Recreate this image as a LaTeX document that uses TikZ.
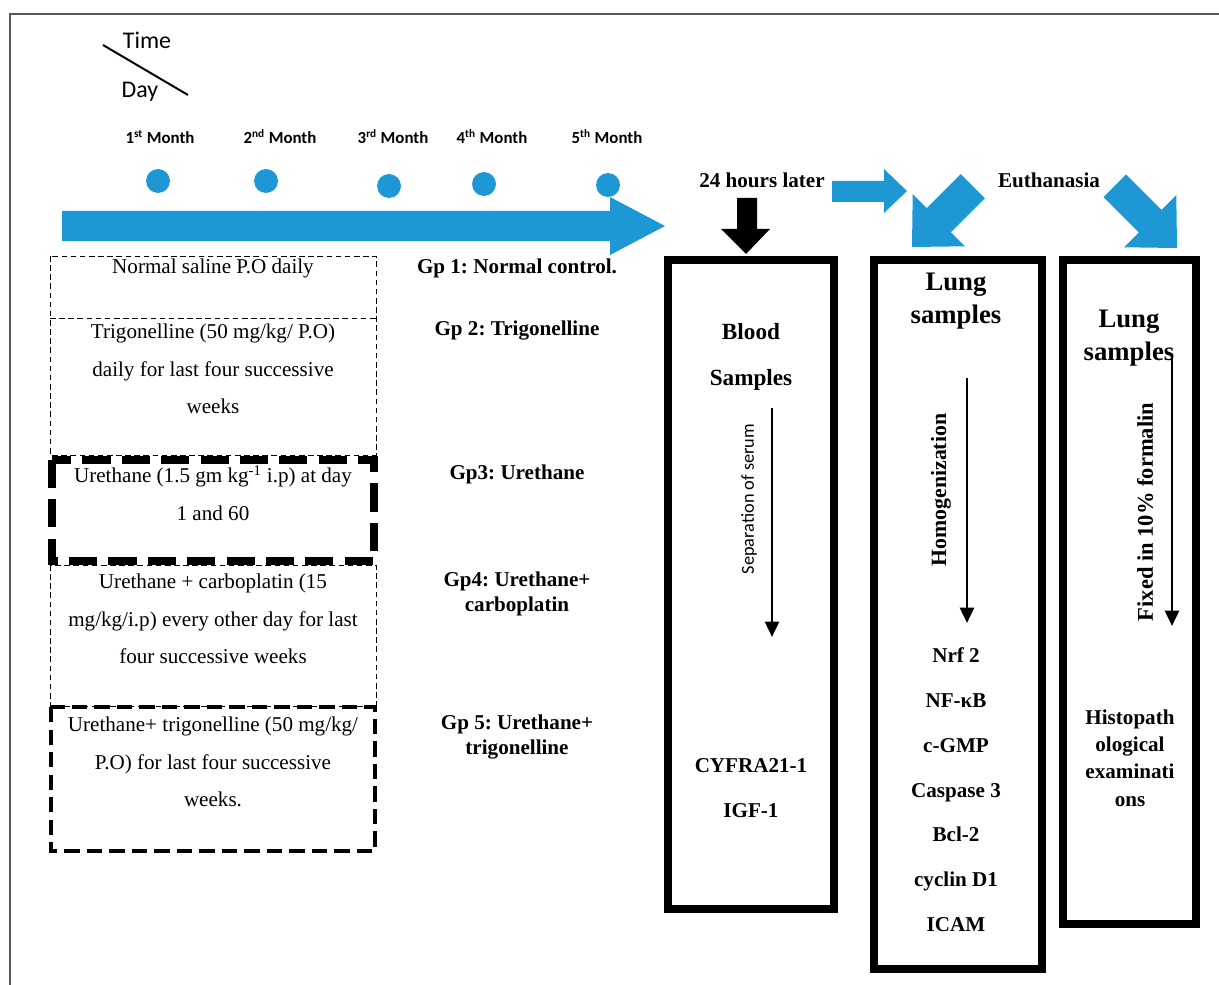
\documentclass[tikz,border=0pt]{standalone}
\usepackage{fontspec}
\setmainfont{Liberation Serif}
\newfontfamily\calibri{Carlito}
\usetikzlibrary{arrows.meta}
\definecolor{arrowblue}{RGB}{30,152,212}
\frenchspacing

\begin{document}
\begin{tikzpicture}[x=0.025cm,y=-0.025cm,
    txt/.style={font=\fontsize{15}{26.5}\selectfont,align=center,inner sep=0pt},
    grp/.style={font=\fontsize{15}{18}\selectfont\bfseries,align=center,inner sep=0pt},
    bold/.style={font=\fontsize{15}{19.5}\selectfont\bfseries,align=center,inner sep=0pt},
    marker/.style={bold,text height=10pt,text depth=3pt},
    month/.style={font=\calibri\fontsize{12}{14}\selectfont\bfseries,inner sep=0pt},
    dot/.style={circle,fill=arrowblue,minimum size=17pt,inner sep=0pt},
    samplebox/.style={line width=5.6pt},
    flow/.style={line width=2pt,-{Triangle[length=11pt,width=10pt]}}]

  \useasboundingbox (0,0) rectangle (1219,985);
  \draw[black!65,line width=0.8pt] (10,985) -- (10,14) -- (1219,14);

  \draw[line width=1.4pt] (103,45) -- (188,95);
  \node[font=\calibri\fontsize{17}{20}\selectfont,inner sep=0pt] (time) at (147,40) {Time};
  \node[font=\calibri\fontsize{17}{20}\selectfont,inner sep=0pt] (day) at (140,92) {Day};

  \foreach \x/\s [count=\i] in {160/st,280/nd,393/rd,492/th,607/th}{
    \node[month] (m\i) at (\x,137) {\i\textsuperscript{\s} Month};
  }
  \foreach \x/\y [count=\i] in {158/181,266/181,389/186,484/184,608/185}{
    \node[dot] (d\i) at (\x,\y) {};
  }

  \fill[arrowblue] (62,211) -- (610,211) -- (610,197) -- (665,226)
    -- (610,255) -- (610,241) -- (62,241) -- cycle;

  \draw[dashed,dash pattern=on 4pt off 2.5pt,line width=0.6pt] (50,256) rectangle (376,455);
  \draw[dashed,dash pattern=on 4pt off 2.5pt,line width=0.6pt] (50,318) -- (376,318);
  \draw[dashed,dash pattern=on 4pt off 2.5pt,line width=0.6pt] (50,565) rectangle (376,706);
  \draw[line width=5pt,dash pattern=on 20pt off 8pt] (52,460) rectangle (374,561);
  \draw[line width=3pt,dash pattern=on 11pt off 5pt] (51,707) rectangle (375,851);

  \node[txt] (g1) at (213,268) {Normal saline P.O daily};
  \node[txt] (g2) at (213,369) {Trigonelline (50 mg/kg/ P.O)\\daily for last four successive\\weeks};
  \node[txt] (g3) at (213,493) {Urethane (1.5 gm kg\textsuperscript{-1} i.p) at day\\1 and 60};
  \node[txt] (g4) at (213,619) {Urethane + carboplatin (15\\mg/kg/i.p) every other day for last\\four successive weeks};
  \node[txt] (g5) at (213,762) {Urethane+ trigonelline (50 mg/kg/\\P.O) for last four successive\\weeks.};

  \node[grp] (gp1) at (517,268) {Gp 1: Normal control.};
  \node[grp] (gp2) at (517,331) {Gp 2: Trigonelline};
  \node[grp] (gp3) at (517,474) {Gp3: Urethane};
  \node[grp] (gp4) at (517,594) {Gp4: Urethane+\\carboplatin};
  \node[grp] (gp5) at (517,737) {Gp 5: Urethane+\\trigonelline};

  \node[bold] (later) at (762,180) {24 hours later};
  \node[bold] (euth) at (1049,180) {Euthanasia};

  \fill (737,198) -- (757,198) -- (757,229) -- (770,229) -- (746,254)
    -- (721,229) -- (737,229) -- cycle;
  \fill[arrowblue] (832,181) -- (884,181) -- (884,169) -- (907,191)
    -- (884,213) -- (884,202) -- (832,202) -- cycle;
  \begin{scope}[shift={(912,247)},rotate=225]
    \fill[arrowblue] (0,0) -- (-38,-37) -- (-38,-17) -- (-86,-17)
      -- (-86,17) -- (-38,17) -- (-38,37) -- cycle;
  \end{scope}
  \begin{scope}[shift={(1177,248)},rotate=-45]
    \fill[arrowblue] (0,0) -- (-38,-37) -- (-38,-16) -- (-88,-16)
      -- (-88,16) -- (-38,16) -- (-38,37) -- cycle;
  \end{scope}

  \draw[samplebox] (668,260) rectangle (834,909);
  \draw[samplebox] (874,260) rectangle (1042,969);
  \draw[samplebox] (1063,260) rectangle (1196,924);

  \node[font=\fontsize{16.5}{33}\selectfont\bfseries,align=center,inner sep=0pt] (blood) at (751,357) {Blood\\Samples};
  \node[font=\fontsize{19}{23.5}\selectfont\bfseries,align=center,inner sep=0pt] (lung) at (956,301) {Lung\\samples};
  \node[font=\fontsize{19}{23.5}\selectfont\bfseries,align=center,inner sep=0pt] (lungb) at (1129,338) {Lung\\samples};

  \node[font=\calibri\fontsize{13}{15}\selectfont,rotate=90,inner sep=0pt] (sep) at (749,499) {Separation of serum};
  \node[font=\fontsize{15.5}{18}\selectfont\bfseries,rotate=90,inner sep=0pt] (homo) at (941,490) {Homogenization};
  \node[font=\fontsize{16}{18}\selectfont\bfseries,rotate=90,inner sep=0pt] (fix) at (1145,512) {Fixed in 10\% formalin};

  \coordinate (s1) at (772,408);
  \coordinate (s2) at (772,637);
  \coordinate (h1) at (967,378);
  \coordinate (h2) at (967,623);
  \coordinate (f1) at (1172,354);
  \coordinate (f2) at (1172,626);
  \draw[flow] (s1) -- (s2);
  \draw[flow] (h1) -- (h2);
  \draw[flow] (f1) -- (f2);

  \node[font=\fontsize{15}{31.5}\selectfont\bfseries,align=center,inner sep=0pt] (serum) at (751,788) {CYFRA21-1\\IGF-1};
  \foreach \t [count=\i] in {Nrf 2,NF-κB,c-GMP,Caspase 3,Bcl-2,cyclin D1,ICAM}{
    \node[marker] (b\i) at (956,{658+44.7*(\i-1)}) {\t};
  }
  \node[bold] (histo) at (1130,758) {Histopath\\ological\\examinati\\ons};
\end{tikzpicture}
\end{document}
